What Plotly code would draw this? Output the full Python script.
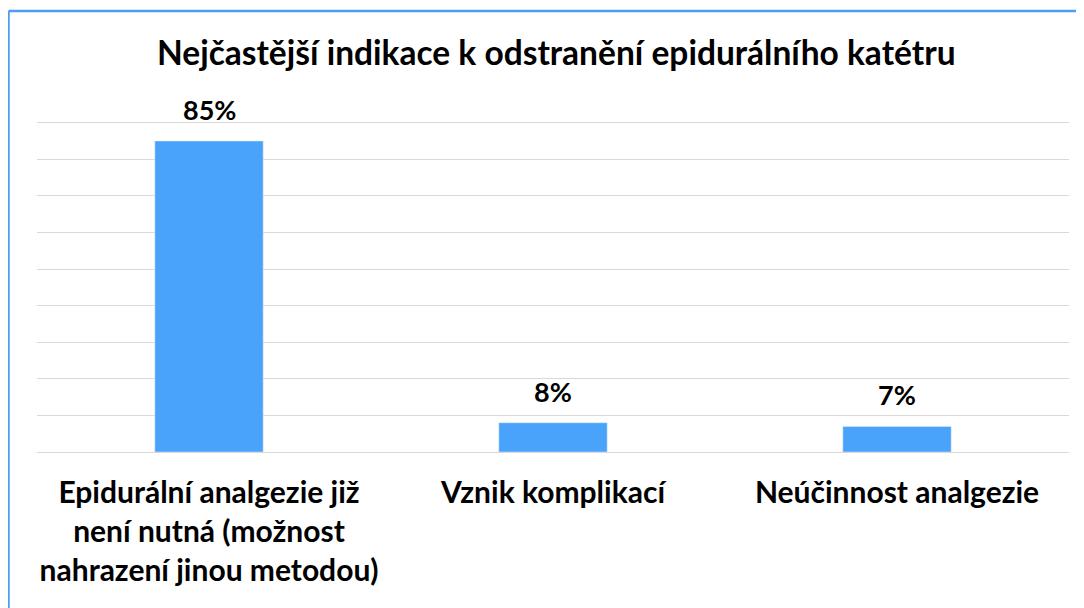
import plotly.graph_objects as go

categories = [
    "Epidurální analgezie již<br>není nutná (možnost<br>nahrazení jinou metodou)",
    "Vznik komplikací",
    "Neúčinnost analgezie",
]
values = [0.85, 0.08, 0.07]
value_labels = ["85%", "8%", "7%"]
title_text = "Nejčastější indikace k odstranění epidurálního katétru"

FONT = "Lato"
BAR = "#4aa3fb"

# page has an 8px body margin; figure coordinates are offset accordingly
L, T, B, R = 29, 111, 164, 23
PW = 1084 - L - R
PH = 608 - T - B

fig = go.Figure()
fig.add_trace(go.Bar(
    x=categories, y=values, marker_color=BAR, width=0.315,
    hoverinfo="skip",
))
for c, v, t in zip(categories, values, value_labels):
    fig.add_annotation(x=c, y=v, text="<b>%s</b>" % t, showarrow=False,
                       yanchor="bottom", yshift=13,
                       font=dict(family=FONT, size=27, color="#000000"))

bx = (0.5 - L) / PW
by = 1 + (T - 3) / PH
fig.add_shape(type="line", xref="paper", yref="paper",
              x0=bx, x1=1.05, y0=by, y1=by,
              line=dict(color="#4a9ff5", width=2.5))
fig.add_shape(type="line", xref="paper", yref="paper",
              x0=bx, x1=bx, y0=by, y1=-0.6,
              line=dict(color="#4a9ff5", width=2.5))

fig.update_layout(
    width=1084, height=608,
    margin=dict(l=L, r=R, t=T, b=B),
    paper_bgcolor="white", plot_bgcolor="white",
    showlegend=False,
    title=dict(text="<b>%s</b>" % title_text, x=(L + PW / 2) / 1084 + 0.003,
               xanchor="center", y=1 - 45 / 608, yref="container",
               yanchor="middle",
               font=dict(family=FONT, size=33.5, color="#000000")),
)
fig.update_xaxes(showgrid=False, showline=False, ticks="outside", ticklen=14,
                 tickcolor="rgba(0,0,0,0)",
                 tickfont=dict(family=FONT, size=30, color="#000000"),
                 tickprefix="<b>", ticksuffix="</b>", fixedrange=True)
fig.update_yaxes(range=[0, 0.91], tick0=0, dtick=0.1, showgrid=True,
                 gridcolor="#d9d9d9", gridwidth=1.3, showticklabels=False,
                 zeroline=True, zerolinecolor="#d9d9d9", zerolinewidth=1.3,
                 fixedrange=True)

fig.write_html("out.html")
